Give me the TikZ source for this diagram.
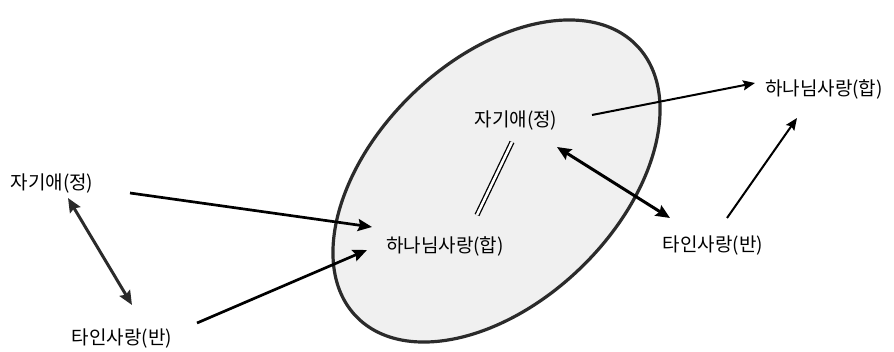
\documentclass[tikz,border=0pt]{standalone}
\usepackage{fontspec}
\setmainfont{Noto Sans CJK KR}
\usepackage{tikz}
\usetikzlibrary{arrows.meta,calc}
\definecolor{rimgray}{HTML}{2B2B2B}
\definecolor{fillgray}{HTML}{F0F0F0}

\begin{document}
\begin{tikzpicture}[x=1pt,y=-1pt,every node/.style={font=\fontsize{19}{22}\selectfont,inner sep=0pt},
  lbl/.style={anchor=center},
  arr/.style={-{Stealth[length=14pt,width=12pt,inset=2pt]},line width=2.7pt},
  thinarr/.style={-{Stealth[length=12pt,width=10pt,inset=2pt]},line width=2pt},
  both/.style={{Stealth[length=14pt,width=12pt,inset=2pt]}-{Stealth[length=14pt,width=12pt,inset=2pt]},line width=3pt},
  eq/.style={double,double distance=2.6pt,line width=1.3pt}]
\useasboundingbox (0,0) rectangle (894,351);
% 타원
\draw[rimgray,fill=fillgray,line width=3.2pt,rotate around={44:(496.5,181)}] (496.5,181) ellipse [x radius=195,y radius=121];
% 글자
\node[lbl] (jA) at (52,184) {자기애(정)};
\node[lbl] (bA) at (122,338) {타인사랑(반)};
\node[lbl] (hC) at (445,246) {하나님사랑(합)};
\node[lbl] (jC) at (516,121) {자기애(정)};
\node[lbl] (bR) at (713,246) {타인사랑(반)};
\node[lbl] (hR) at (824,89) {하나님사랑(합)};
% 화살표
\draw[arr] ($(jA)+(78,9)$) -- ($(hC)+(-73,-19)$);
\draw[arr] ($(bA)+(75,-15)$) -- ($(hC)+(-78,4)$);
\draw[both,rimgray] ($(jA)+(16,14)$) -- ($(bA)+(10,-33)$);
\draw[eq] ($(jC)+(-4,21)$) -- ($(hC)+(32,-31)$);
\draw[both] ($(jC)+(41,26)$) -- ($(bR)+(-43,-28)$);
\draw[thinarr] ($(jC)+(76,-6)$) -- ($(hR)+(-69,-6)$);
\draw[thinarr] ($(bR)+(14,-28)$) -- ($(hR)+(-27,29)$);
\end{tikzpicture}
\end{document}
